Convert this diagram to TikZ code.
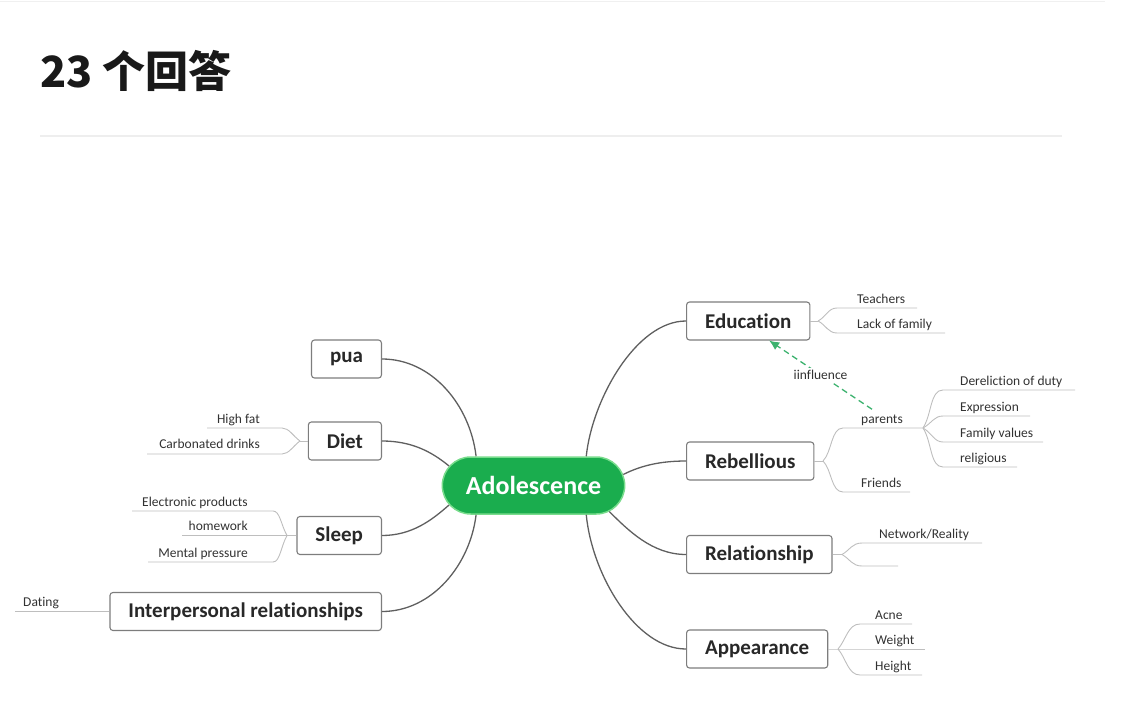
\documentclass[tikz,border=0pt]{standalone}
\usepackage{fontspec}
\setmainfont{Carlito}[Ligatures={NoCommon,NoRare,NoContextual}]
\newfontfamily\cjk{Noto Sans CJK SC}
\usetikzlibrary{shapes.misc,arrows.meta}
\definecolor{mgreen}{RGB}{26,173,78}
\definecolor{glow}{RGB}{120,220,140}
\definecolor{boxgray}{RGB}{125,125,125}
\definecolor{linegray}{RGB}{95,95,95}
\definecolor{subgray}{RGB}{190,190,190}
\definecolor{txt}{RGB}{40,40,40}
\definecolor{leaftxt}{RGB}{50,50,50}
\definecolor{infl}{RGB}{60,178,110}
\tikzset{
  box/.style={draw=boxgray, line width=1.1pt, rounded corners=3pt, fill=white,
    minimum height=38pt, inner xsep=18.5pt, text=txt,
    font=\fontsize{21}{24}\selectfont\bfseries},
  leaf/.style={text=leaftxt, inner sep=0pt, font=\fontsize{13.5}{16}\selectfont},
  mainc/.style={draw=linegray, line width=1.3pt},
  subl/.style={draw=subgray, line width=0.9pt},
  inflarrow/.style={draw=infl, line width=1.3pt, dashed, dash pattern=on 6pt off 4pt,
    -{Latex[length=10pt,width=9pt]}},
}
\begin{document}
\begin{tikzpicture}[x=1pt,y=-1pt]
\useasboundingbox (0,0) rectangle (1122,720);
% header
\draw[draw={rgb,255:red,240;green,240;blue,240}, line width=1pt] (0,1) -- (1105,1);
\node[anchor=base west, inner sep=0pt, text={rgb,255:red,25;green,25;blue,25}, font=\cjk\fontsize{43}{50}\selectfont\bfseries] (title) at (40,87) {23 个回答};
\draw[draw={rgb,255:red,238;green,238;blue,238}, line width=1.5pt] (40,136) -- (1062,136);

% central
\node[rounded rectangle, fill=mgreen, draw=glow, line width=1.5pt, minimum width=189pt, minimum height=57pt,
  text=white, font=\fontsize{26}{30}\selectfont\bfseries] (c) at (533.5,485.5) {Adolescence};

% left boxes
\node[box, anchor=east] (pua) at (382,359) {pua};
\node[box, anchor=east] (diet) at (382,441) {Diet};
\node[box, anchor=east] (sleep) at (382,535.5) {Sleep};
\node[box, anchor=east] (ip) at (382,611.5) {Interpersonal relationships};
% right boxes
\node[box, anchor=west] (edu) at (686,321) {Education};
\node[box, anchor=west] (reb) at (686,461) {Rebellious};
\node[box, anchor=west] (rel) at (686,554.5) {Relationship};
\node[box, anchor=west] (app) at (686,649) {Appearance};

% main connectors
\draw[mainc] (pua.east) .. controls (432,359) and (470,405) .. (c.153);
\draw[mainc] (diet.east) .. controls (412,441) and (432,452) .. (c.167);
\draw[mainc] (sleep.east) .. controls (412,535.5) and (432,520) .. (c.193);
\draw[mainc] (ip.east) .. controls (432,611.5) and (470,565) .. (c.207);
\draw[mainc] (edu.west) .. controls (636,321) and (592,400) .. (c.29);
\draw[mainc] (reb.west) .. controls (662,461) and (642,465) .. (c.7.6);
\draw[mainc] (rel.west) .. controls (652,554.5) and (628,530) .. (c.341);
\draw[mainc] (app.west) .. controls (636,649) and (592,575) .. (c.331);

% ---- Education leaves
\coordinate (eduF) at (818,321);
\coordinate (teA) at (837,308); \coordinate (teB) at (917,308);
\coordinate (lfA) at (837,333); \coordinate (lfB) at (945,333);
\draw[subl] (edu.east) -- (eduF);
\draw[subl] (eduF) .. controls (826,317) and (828,308) .. (teA) -- (teB);
\draw[subl] (eduF) .. controls (826,325) and (828,333) .. (lfA) -- (lfB);
\node[leaf, anchor=base west] (teach) at (857,303) {Teachers};
\node[leaf, anchor=base west] (lackf) at (857,328) {Lack of family};

% ---- Rebellious leaves
\coordinate (rebF) at (823,461);
\coordinate (paA) at (843,428); \coordinate (paB) at (923,428);
\coordinate (frA) at (843,492); \coordinate (frB) at (910,492);
\draw[subl] (reb.east) -- (rebF);
\draw[subl] (rebF) .. controls (832,452) and (831,428) .. (paA) -- (paB);
\draw[subl] (rebF) .. controls (832,470) and (831,492) .. (frA) -- (frB);
\node[leaf, anchor=base west] (parents) at (861,423) {parents};
\node[leaf, anchor=base west] (friends) at (861,487) {Friends};

% ---- parents leaves
\coordinate (ddA) at (943,390); \coordinate (ddB) at (1075,390);
\coordinate (exA) at (943,416); \coordinate (exB) at (1030,416);
\coordinate (fvA) at (943,442); \coordinate (fvB) at (1043,442);
\coordinate (rgA) at (943,467); \coordinate (rgB) at (1017,467);
\draw[subl] (paB) .. controls (932,414) and (930,390) .. (ddA) -- (ddB);
\draw[subl] (paB) .. controls (932,423) and (934,416) .. (exA) -- (exB);
\draw[subl] (paB) .. controls (932,433) and (934,442) .. (fvA) -- (fvB);
\draw[subl] (paB) .. controls (932,442) and (930,467) .. (rgA) -- (rgB);
\node[leaf, anchor=base west] (dd) at (960,385) {Dereliction of duty};
\node[leaf, anchor=base west] (ex) at (960,411) {Expression};
\node[leaf, anchor=base west] (fv) at (960,437) {Family values};
\node[leaf, anchor=base west] (rg) at (960,462) {religious};

% influence arrow
\draw[inflarrow] ([xshift=-10pt,yshift=5pt]parents.north) -- node[leaf, fill=white, inner sep=2pt] (inf) {iinfluence} (edu.-43.5);

% ---- Relationship leaves
\coordinate (relF) at (842,554.5);
\coordinate (nrA) at (862,543); \coordinate (nrB) at (982,543);
\coordinate (emA) at (862,566); \coordinate (emB) at (898,566);
\draw[subl] (rel.east) -- (relF);
\draw[subl] (relF) .. controls (850,550) and (852,543) .. (nrA) -- (nrB);
\draw[subl] (relF) .. controls (850,559) and (852,566) .. (emA) -- (emB);
\node[leaf, anchor=base west] (nr) at (879,538) {Network/Reality};

% ---- Appearance leaves
\coordinate (appF) at (838,649);
\coordinate (acA) at (860,624); \coordinate (acB) at (912,624);
\coordinate (weB) at (925,649);
\coordinate (heA) at (860,675); \coordinate (heB) at (922,675);
\draw[subl] (app.east) -- (appF) -- (weB);
\draw[subl] (appF) .. controls (846,640) and (848,624) .. (acA) -- (acB);
\draw[subl] (appF) .. controls (846,658) and (848,675) .. (heA) -- (heB);
\node[leaf, anchor=base west] (acne) at (875,619) {Acne};
\node[leaf, anchor=base west] (weight) at (875,644) {Weight};
\node[leaf, anchor=base west] (height) at (875,670) {Height};

% ---- Diet leaves
\coordinate (dietF) at (300,441);
\coordinate (hfA) at (282,428); \coordinate (hfB) at (207,428);
\coordinate (cdA) at (282,454); \coordinate (cdB) at (147,454);
\draw[subl] (diet.west) -- (dietF);
\draw[subl] (dietF) .. controls (293,436) and (289,428) .. (hfA) -- (hfB);
\draw[subl] (dietF) .. controls (293,446) and (289,454) .. (cdA) -- (cdB);
\node[leaf, anchor=base east] (hf) at (260,423) {High fat};
\node[leaf, anchor=base east] (cd) at (260,448) {Carbonated drinks};

% ---- Sleep leaves
\coordinate (sleepF) at (287,535.5);
\coordinate (epA) at (273,511); \coordinate (epB) at (132,511);
\coordinate (hwB) at (182,535.5);
\coordinate (mpA) at (273,562); \coordinate (mpB) at (148,562);
\draw[subl] (sleep.west) -- (sleepF) -- (hwB);
\draw[subl] (sleepF) .. controls (281,525) and (280,511) .. (epA) -- (epB);
\draw[subl] (sleepF) .. controls (281,546) and (280,562) .. (mpA) -- (mpB);
\node[leaf, anchor=base east] (ep) at (248,506) {Electronic products};
\node[leaf, anchor=base east] (hw) at (248,530.5) {homework};
\node[leaf, anchor=base east] (mp) at (248,557) {Mental pressure};

% ---- Interpersonal leaf
\coordinate (dtB) at (15,611.5);
\draw[subl] (ip.west) -- (dtB);
\node[leaf, anchor=base west] (dating) at (23,606) {Dating};
\end{tikzpicture}
\end{document}
